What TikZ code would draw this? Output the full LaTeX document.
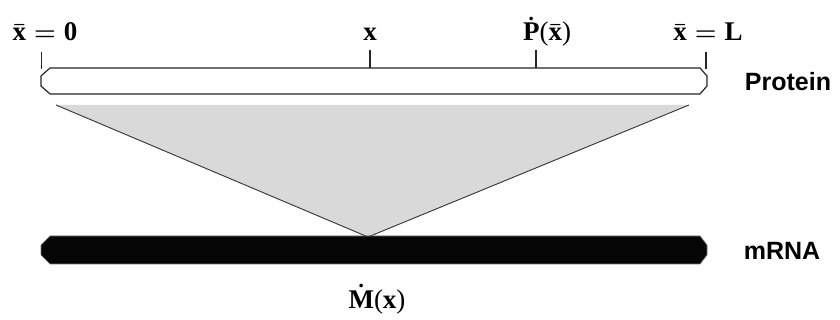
\documentclass[tikz,border=0pt]{standalone}
\usepackage{fontspec}
\setmainfont{Liberation Serif}
\newfontfamily\labsans{Liberation Sans}
\newcommand\xbar{\bar{\textbf{x}}}
\begin{document}
\begin{tikzpicture}[x=1pt,y=-1pt,
  lab/.style={font=\fontsize{27}{27}\selectfont\boldmath, anchor=base, inner sep=0pt},
  side/.style={font=\labsans\bfseries\fontsize{25}{25}\selectfont, inner sep=0pt},
  tick/.style={draw=black!85, line width=1.1pt},
  edge/.style={draw=black!80, line width=0.9pt}]
\useasboundingbox (0,0) rectangle (840,320);
% protein bar
\draw[line width=1.2pt, draw=black!85, fill=white]
  (50,68) -- (700,68) -- (707,76) -- (707,86) -- (700,94) -- (50,94) -- (41,86) -- (41,76) -- cycle;
% ticks
\coordinate (t0a) at (41.5,52); \coordinate (t0b) at (41.5,69);
\coordinate (t1a) at (370,50);  \coordinate (t1b) at (370,68);
\coordinate (t2a) at (536,50);  \coordinate (t2b) at (536,68);
\coordinate (t3a) at (706,52);  \coordinate (t3b) at (706,69);
\draw[tick] (t0a) -- (t0b);
\draw[tick] (t1a) -- (t1b);
\draw[tick] (t2a) -- (t2b);
\draw[tick] (t3a) -- (t3b);
% labels
\node[lab] (l0) at (45,41) {$\xbar = \textbf{0}$};
\node[lab] (l1) at (370,41) {\textbf{x}};
\node[lab] (l2) at (547,41) {$\dot{\textbf{P}}\textnormal{(}\xbar\textnormal{)}$};
\node[lab] (l3) at (708,41) {$\xbar = \textbf{L}$};
\node[lab] (lm) at (377,308) {$\dot{\textbf{M}}\textnormal{(}\textbf{x}\textnormal{)}$};
% gray triangle
\coordinate (pl) at (56,105);
\coordinate (pr) at (689,105);
\coordinate (apex) at (368,237);
\fill[black!15] (pl) -- (pr) -- (apex) -- cycle;
\draw[edge] (pl) -- (apex);
\draw[edge] (pr) -- (apex);
% mRNA bar
\fill[black!98, draw=black!55, line width=0.6pt]
  (50,236) -- (700,236) -- (707,245) -- (707,255) -- (700,264) -- (50,264) -- (41,255) -- (41,245) -- cycle;
% side labels
\node[side] (prot) at (788,82) {Protein};
\node[side] (mrna) at (782,251) {mRNA};
\end{tikzpicture}
\end{document}
